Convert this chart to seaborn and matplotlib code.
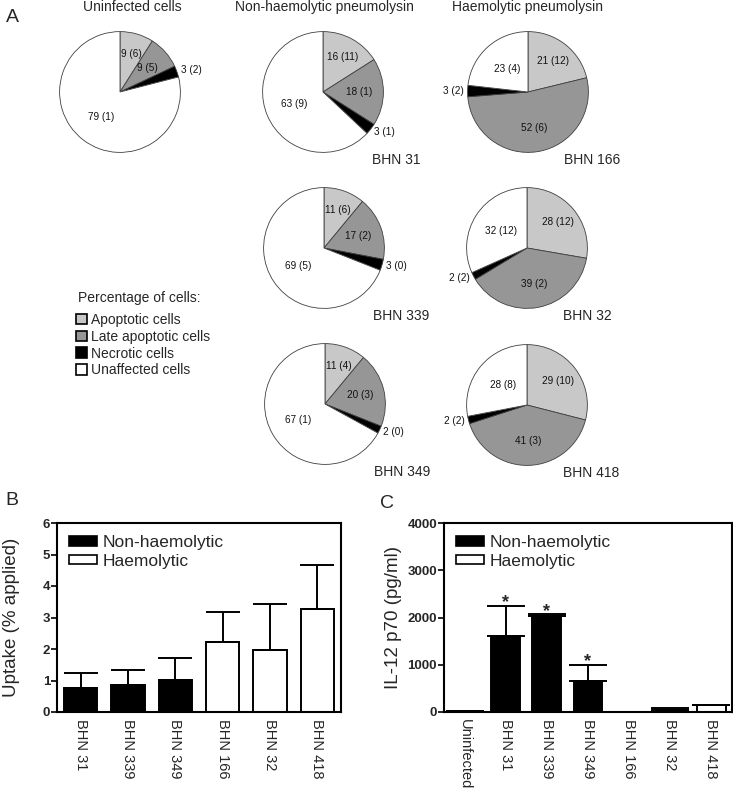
"""
Pneumolysin: cell death pie charts (A), uptake (B) and IL-12 p70 (C)
"""
import numpy as np
import pandas as pd
import matplotlib
matplotlib.use("Agg")
import matplotlib.pyplot as plt
from matplotlib.patches import Patch
import seaborn as sns

sns.set_theme(style="ticks")
plt.rcParams["font.family"] = ["Liberation Sans", "DejaVu Sans"]

W, H = 733, 789

# ---- (A) pie data: % of cells (SD in brackets) ----
PIE_NAMES = ["Uninfected", "BHN 31", "BHN 166", "BHN 339", "BHN 32", "BHN 349", "BHN 418"]
APOPTOTIC = [9, 16, 21, 11, 28, 11, 29]
APOPTOTIC_SD = [6, 11, 12, 6, 12, 4, 10]
LATE_APOPTOTIC = [9, 18, 52, 17, 39, 20, 41]
LATE_APOPTOTIC_SD = [5, 1, 6, 2, 2, 3, 3]
NECROTIC = [3, 3, 3, 3, 2, 2, 2]
NECROTIC_SD = [2, 1, 2, 0, 2, 0, 2]
UNAFFECTED = [79, 63, 23, 69, 32, 67, 28]
UNAFFECTED_SD = [1, 9, 4, 5, 12, 1, 8]
CELL_TYPES = ["Apoptotic cells", "Late apoptotic cells", "Necrotic cells", "Unaffected cells"]
PIE_COLORS = ["#c8c8c8", "#969696", "#000000", "#ffffff"]

# ---- (B) uptake ----
B_STRAINS = ["BHN 31", "BHN 339", "BHN 349", "BHN 166", "BHN 32", "BHN 418"]
B_GROUP = ["Non-haemolytic"] * 3 + ["Haemolytic"] * 3
B_UPTAKE = [0.76, 0.86, 1.02, 2.21, 1.97, 3.27]
B_ERR = [0.47, 0.48, 0.71, 0.95, 1.47, 1.41]

# ---- (C) IL-12 p70 ----
C_STRAINS = ["Uninfected", "BHN 31", "BHN 339", "BHN 349", "BHN 166", "BHN 32", "BHN 418"]
C_GROUP = ["Uninfected"] + ["Non-haemolytic"] * 3 + ["Haemolytic"] * 3
C_IL12 = [15, 1610, 2040, 650, 8, 40, 140]
C_ERR = [0, 640, 30, 350, 0, 35, 12]
C_SIG = [False, True, True, True, False, False, False]

GROUP_COLORS = {"Non-haemolytic": "black", "Haemolytic": "white", "Uninfected": "#e0e0e0"}

# pie layout: centre (px)
PIE_POS = [(120, 92), (323, 92), (528, 92), (324, 248), (527, 248), (325, 404), (527, 405)]
R = 61
LABEL_R = [0.66, 0.6, 1.07, 0.52]

fig = plt.figure(figsize=(W / 100, H / 100), dpi=100)


def px_axes(left, top, right, bottom):
    return fig.add_axes([left / W, 1 - bottom / H, (right - left) / W, (bottom - top) / H])


for i, name in enumerate(PIE_NAMES):
    cx, cy = PIE_POS[i]
    ax = px_axes(cx - R, cy - R, cx + R, cy + R)
    vals = [APOPTOTIC[i], LATE_APOPTOTIC[i], NECROTIC[i], UNAFFECTED[i]]
    sds = [APOPTOTIC_SD[i], LATE_APOPTOTIC_SD[i], NECROTIC_SD[i], UNAFFECTED_SD[i]]
    wedges, _ = ax.pie(vals, colors=PIE_COLORS, startangle=90, counterclock=False,
                       radius=1, wedgeprops=dict(edgecolor="#404040", linewidth=0.6))
    ax.set_xlim(-1.01, 1.01)
    ax.set_ylim(-1.01, 1.01)
    for k, w in enumerate(wedges):
        th = np.deg2rad((w.theta1 + w.theta2) / 2)
        x, y = LABEL_R[k] * np.cos(th), LABEL_R[k] * np.sin(th)
        ha = "center"
        if k == 2:
            ha = "left" if x > 0 else "right"
        ax.text(x, y, f"{vals[k]} ({sds[k]})", ha=ha, va="center", fontsize=7.2, color="#111")
    if i > 0:
        off = 49 if cx < 400 else 36
        fig.text((cx + off) / W, 1 - (cy + 68) / H, name, ha="left", va="center", fontsize=10)

fig.text(132 / W, 1 - 7 / H, "Uninfected cells", ha="center", va="center", fontsize=10)
fig.text(324 / W, 1 - 7 / H, "Non-haemolytic pneumolysin", ha="center", va="center", fontsize=10)
fig.text(528 / W, 1 - 7 / H, "Haemolytic pneumolysin", ha="center", va="center", fontsize=10)
fig.text(12 / W, 1 - 18 / H, "A", ha="center", va="center", fontsize=14)
fig.text(12 / W, 1 - 500 / H, "B", ha="center", va="center", fontsize=14)
fig.text(387 / W, 1 - 503 / H, "C", ha="center", va="center", fontsize=14)

fig.text(78 / W, 1 - 298 / H, "Percentage of cells:", ha="left", va="center", fontsize=10)
handles = [Patch(facecolor=c, edgecolor="black", linewidth=1.2, label=l)
           for c, l in zip(PIE_COLORS, CELL_TYPES)]
fig.legend(handles=handles, loc="upper left", bbox_to_anchor=(76 / W, 1 - 313 / H),
           frameon=False, fontsize=10, handlelength=0.8, handleheight=0.8,
           handletextpad=0.3, labelspacing=0.2, borderaxespad=0, borderpad=0)


def bar_panel(ax, strains, groups, vals, errs, ymax, step, ylabel, capsize, labelpad):
    df = pd.DataFrame({"strain": strains, "group": groups, "value": vals})
    sns.barplot(data=df, x="strain", y="value", hue="group", palette=GROUP_COLORS,
                dodge=False, width=0.7, edgecolor="black", linewidth=1.4,
                errorbar=None, legend=False, ax=ax)
    ax.errorbar(range(len(vals)), vals, yerr=[np.zeros(len(errs)), errs], fmt="none",
                ecolor="black", elinewidth=1.4, capsize=capsize, capthick=1.4, zorder=1)
    ax.set_xlim(-0.5, len(vals) - 0.5)
    ax.set_ylim(0, ymax)
    ax.set_yticks(np.arange(0, ymax + step / 2, step))
    ax.set_xlabel("")
    ax.set_ylabel(ylabel, fontsize=13.5, labelpad=labelpad)
    ax.tick_params(axis="x", length=0, pad=5, labelsize=10.5, labelrotation=-90)
    ax.tick_params(axis="y", length=4, width=1.4, labelsize=9.5, pad=1)
    for lbl in ax.get_yticklabels():
        lbl.set_fontweight("bold")
    for s in ax.spines.values():
        s.set_linewidth(1.5)
        s.set_color("black")
    leg_h = [Patch(facecolor=GROUP_COLORS[g], edgecolor="black", linewidth=1.2, label=g)
             for g in ["Non-haemolytic", "Haemolytic"]]
    ax.legend(handles=leg_h, loc="upper left", frameon=False, fontsize=12.5,
              handlelength=1.6, handleheight=0.5, handletextpad=0.3, labelspacing=0.2,
              borderaxespad=0.3)


ax_b = px_axes(57, 523, 341, 712)
bar_panel(ax_b, B_STRAINS, B_GROUP, B_UPTAKE, B_ERR, 6, 1, "Uptake (% applied)", 12.5, 16)

ax_c = px_axes(444, 523, 732, 712)
bar_panel(ax_c, C_STRAINS, C_GROUP, C_IL12, C_ERR, 4000, 1000, "IL-12 p70 (pg/ml)", 14, 4)
for i, sig in enumerate(C_SIG):
    if sig:
        ax_c.annotate("*", xy=(i, C_IL12[i] + C_ERR[i]), xytext=(0, -4),
                      textcoords="offset points", ha="center", va="bottom",
                      fontsize=13, fontweight="bold")

plt.savefig("out.png", dpi=100)
